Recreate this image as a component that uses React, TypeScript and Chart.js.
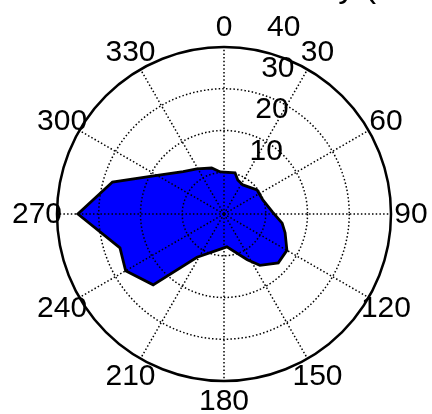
import React, { useEffect, useRef } from "react";
import { Chart, registerables } from "chart.js";

Chart.register(...registerables);

// Polygon vertices: compass bearing (deg, 0 = north, clockwise) and radius
const VERTEX_ANGLES = [15, 22, 33, 54, 70, 88, 99, 107, 120, 132, 145, 153, 175, 212, 225, 240, 252, 270, 286, 297, 316, 329, 345, 355];
const VERTEX_RADII = [10.2, 8.8, 8.3, 9.8, 9.9, 11.7, 14.1, 15.3, 17.4, 17.5, 15.0, 12.3, 7.9, 12.2, 24.0, 27.2, 26.2, 35.0, 27.8, 19.8, 14.1, 12.6, 11.4, 10.1];

const ANGLE_TICKS = [0, 30, 60, 90, 120, 150, 180, 210, 240, 270, 300, 330];
const RADIUS_TICKS = [10, 20, 30, 40];
const R_MAX = 40;
const TITLE_TEXT = "Wind velocity (knots)";

const FONT = '"Liberation Sans", Arial, sans-serif';

export default function App() {
  const canvasRef = useRef<HTMLCanvasElement | null>(null);

  useEffect(() => {
    const canvas = canvasRef.current;
    if (!canvas) return;

    const degreeLabels = Array.from({ length: 360 }, (_, i) => String(i));
    const values: (number | null)[] = new Array(360).fill(null);
    VERTEX_ANGLES.forEach((a, i) => {
      values[a] = VERTEX_RADII[i];
    });

    const labelPlugin = {
      id: "polarLabels",
      afterDraw(chart: any) {
        const ctx = chart.ctx;
        const scale = chart.scales.r;
        ctx.save();
        ctx.setTransform(1, 0, 0, 1, 0, 0);
        ctx.fillStyle = "#000";
        ctx.font = `30px ${FONT}`;
        ctx.textAlign = "center";
        ctx.textBaseline = "middle";
        ANGLE_TICKS.forEach((a) => {
          const p = scale.getPointPosition(a, scale.drawingArea + 20);
          ctx.fillText(String(a), p.x, p.y + 1);
        });
        RADIUS_TICKS.forEach((v) => {
          const p = scale.getPointPosition(8, scale.getDistanceFromCenterForValue(v));
          ctx.fillText(String(v), p.x + 36.4, p.y - 21.3);
        });
        ctx.font = `34px ${FONT}`;
        ctx.textAlign = "left";
        ctx.textBaseline = "alphabetic";
        ctx.fillText(TITLE_TEXT, 155, -3.5);
        ctx.restore();
      },
    };

    const chart = new Chart(canvas, {
      type: "radar",
      data: {
        labels: degreeLabels,
        datasets: [
          {
            data: values,
            spanGaps: true,
            fill: "origin",
            backgroundColor: "#0000ff",
            borderColor: "#000000",
            borderWidth: 2.8,
            pointRadius: 0,
            pointHoverRadius: 0,
            tension: 0,
          },
        ],
      },
      options: {
        responsive: false,
        animation: false,
        events: [],
        layout: { padding: { left: 57, right: 41, top: 47, bottom: 33 } },
        plugins: {
          legend: { display: false },
          tooltip: { enabled: false },
          title: { display: false },
        },
        scales: {
          r: {
            min: 0,
            max: R_MAX,
            startAngle: 0,
            ticks: { display: false, stepSize: 10 },
            pointLabels: { display: false },
            grid: {
              circular: true,
              z: 1,
              color: "#000000",
              lineWidth: (c: any) => (c.tick && c.tick.value === R_MAX ? 2.5 : 1.5),
            },
            border: {
              dash: (c: any) => (c.tick && c.tick.value === R_MAX ? [] : [1.5, 2.2]),
            },
            angleLines: {
              display: true,
              color: "#000000",
              lineWidth: (c: any) => (c.index % 30 === 0 ? 1.5 : 0),
              borderDash: [1.5, 2.2],
            },
          },
        },
      },
      plugins: [labelPlugin],
    });

    return () => chart.destroy();
  }, []);

  return (
    <div style={{ position: "fixed", left: 0, top: 0, width: 432, height: 414, background: "#fff" }}>
      <canvas ref={canvasRef} width={432} height={414} style={{ display: "block", width: 432, height: 414 }} />
    </div>
  );
}
